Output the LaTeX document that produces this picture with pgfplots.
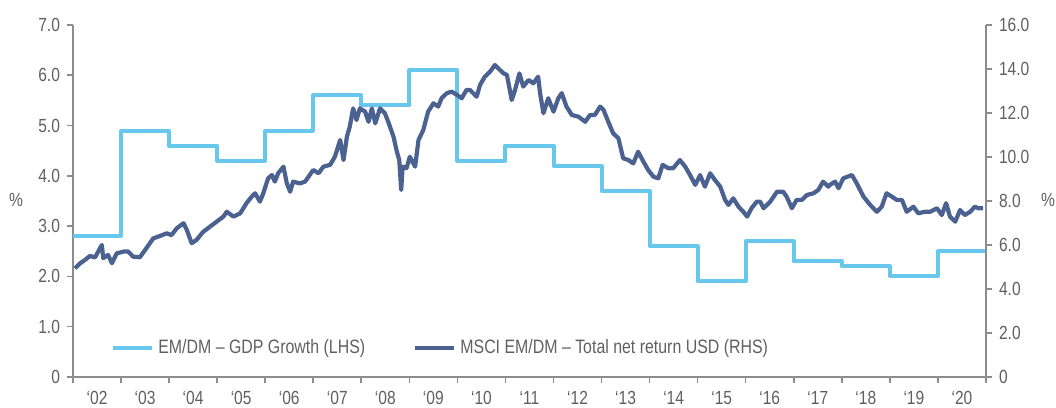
\documentclass[border=0pt]{standalone}
\usepackage{fontspec}
\setmainfont{Liberation Sans}[FakeStretch=0.82]
\usepackage{pgfplots}
\pgfplotsset{compat=1.18}
\definecolor{gdp}{HTML}{68C7EC}
\definecolor{msci}{HTML}{4B6190}
\definecolor{axgray}{HTML}{8C8C8C}
\definecolor{txtgray}{HTML}{606060}
\begin{document}
\begin{tikzpicture}
\pgfplotsset{
  base/.style={
    width=456.5pt, height=176pt, scale only axis,
    xmin=2002, xmax=2021,
    tick align=outside,
    axis line style={axgray, line width=0.8pt},
    tick style={axgray, line width=0.8pt},
    major tick length=3pt,
    tick label style={font=\fontsize{9.5}{10}\selectfont, text=txtgray},
    clip=false,
  }
}
\begin{axis}[base,
  axis x line*=bottom, axis y line*=left,
  ymin=0, ymax=7,
  ytick={0,1,...,7},
  yticklabels={0,1.0,2.0,3.0,4.0,5.0,6.0,7.0},
  xtick={2002,...,2021},
  xticklabels={},
  extra x ticks={2002.5,2003.5,...,2020.5},
  extra x tick labels={‘02,‘03,‘04,‘05,‘06,‘07,‘08,‘09,‘10,‘11,‘12,‘13,‘14,‘15,‘16,‘17,‘18,‘19,‘20},
  extra x tick style={major tick length=0pt, tick label style={yshift=-3.5pt}},
]
\addplot[const plot, gdp, line width=2pt, line join=round] coordinates {
(2002,2.8) (2003,4.9) (2004,4.6) (2005,4.3) (2006,4.9) (2007,5.6) (2008,5.4)
(2009,6.1) (2010,4.3) (2011,4.6) (2012,4.2) (2013,3.7) (2014,2.6) (2015,1.9)
(2016,2.7) (2017,2.3) (2018,2.2) (2019,2.0) (2020,2.5) (2021,2.5)
};
\node[text=txtgray, font=\fontsize{9.5}{10}\selectfont] at (rel axis cs:-0.0624,0.503) {\%};
\coordinate (bl) at (rel axis cs:0,0);
\coordinate (tr) at (rel axis cs:1,1);
\end{axis}
\begin{axis}[base,
  axis x line=none, axis y line*=right,
  ymin=0, ymax=16,
  ytick={0,2,...,16},
  yticklabels={0,2.0,4.0,6.0,8.0,10.0,12.0,14.0,16.0},
  legend columns=2,
  legend style={at={(0.035,0.082)}, anchor=west, draw=none, fill=none,
    font=\fontsize{9.7}{11}\selectfont, text=txtgray,
    /tikz/every even column/.append style={column sep=22pt}},
  legend image code/.code={\draw[#1] (0pt,0pt) -- (19.5pt,0pt);},
]
\addlegendimage{gdp, line width=2pt}
\addlegendentry{EM/DM – GDP Growth (LHS)}
\addplot[msci, line width=2.1pt, line join=round] coordinates {
(2002.04,4.94) (2002.15,5.17) (2002.25,5.32) (2002.35,5.50) (2002.46,5.44) (2002.60,6.00)
(2002.63,5.40) (2002.73,5.55) (2002.81,5.17) (2002.91,5.62) (2003.05,5.70) (2003.15,5.70)
(2003.25,5.47) (2003.39,5.44) (2003.50,5.77) (2003.67,6.30) (2003.81,6.41) (2003.95,6.53)
(2004.05,6.45) (2004.16,6.76) (2004.30,6.99) (2004.37,6.68) (2004.47,6.08) (2004.57,6.23)
(2004.71,6.60) (2004.85,6.83) (2004.99,7.06) (2005.13,7.29) (2005.20,7.51) (2005.34,7.29)
(2005.48,7.44) (2005.61,7.90) (2005.72,8.20) (2005.79,8.35) (2005.89,7.97) (2005.96,8.35)
(2006.06,9.03) (2006.14,9.18) (2006.20,8.88) (2006.27,9.26) (2006.38,9.56) (2006.45,8.80)
(2006.52,8.42) (2006.58,8.88) (2006.72,8.80) (2006.83,8.88) (2007.00,9.41) (2007.11,9.26)
(2007.21,9.56) (2007.35,9.64) (2007.45,10.01) (2007.56,10.77) (2007.63,9.86) (2007.70,10.92)
(2007.76,11.38) (2007.83,12.21) (2007.90,11.68) (2007.97,12.21) (2008.08,12.06) (2008.15,11.60)
(2008.22,12.21) (2008.29,11.53) (2008.39,12.21) (2008.49,11.99) (2008.56,11.60) (2008.67,10.92)
(2008.74,10.24) (2008.79,9.86) (2008.83,8.50) (2008.86,9.56) (2008.94,9.49) (2009.01,10.01)
(2009.12,9.56) (2009.19,10.77) (2009.29,11.23) (2009.39,12.06) (2009.50,12.44) (2009.60,12.29)
(2009.67,12.67) (2009.78,12.90) (2009.88,12.97) (2009.99,12.82) (2010.09,12.67) (2010.19,13.05)
(2010.26,13.05) (2010.40,12.74) (2010.47,13.27) (2010.57,13.65) (2010.68,13.88) (2010.78,14.18)
(2010.85,14.03) (2010.96,13.80) (2011.03,13.73) (2011.13,12.59) (2011.20,13.05) (2011.29,13.80)
(2011.37,13.20) (2011.48,13.50) (2011.58,13.35) (2011.68,13.65) (2011.72,12.90) (2011.79,11.99)
(2011.89,12.67) (2012.00,12.06) (2012.10,12.67) (2012.17,12.90) (2012.27,12.29) (2012.38,11.91)
(2012.52,11.83) (2012.66,11.60) (2012.76,11.91) (2012.86,11.91) (2012.97,12.29) (2013.04,12.14)
(2013.14,11.60) (2013.24,11.08) (2013.35,10.85) (2013.45,9.94) (2013.56,9.86) (2013.66,9.71)
(2013.76,10.24) (2013.87,9.79) (2013.97,9.41) (2014.08,9.10) (2014.18,9.03) (2014.27,9.64)
(2014.39,9.49) (2014.49,9.49) (2014.63,9.86) (2014.74,9.56) (2014.84,9.18) (2014.95,8.73)
(2015.05,9.18) (2015.15,8.65) (2015.26,9.26) (2015.36,8.95) (2015.47,8.65) (2015.57,8.05)
(2015.64,7.82) (2015.74,8.12) (2015.85,7.74) (2015.95,7.51) (2016.03,7.29) (2016.12,7.67)
(2016.23,7.97) (2016.30,7.97) (2016.37,7.67) (2016.51,7.97) (2016.65,8.42) (2016.78,8.42)
(2016.85,8.20) (2016.96,7.67) (2017.06,8.05) (2017.17,8.05) (2017.27,8.27) (2017.41,8.35)
(2017.51,8.50) (2017.61,8.88) (2017.72,8.65) (2017.75,8.73) (2017.86,8.88) (2017.93,8.58)
(2018.03,9.03) (2018.21,9.18) (2018.31,8.80) (2018.45,8.20) (2018.59,7.82) (2018.73,7.51)
(2018.83,7.74) (2018.93,8.35) (2019.04,8.20) (2019.14,8.05) (2019.25,8.05) (2019.35,7.51)
(2019.49,7.74) (2019.59,7.44) (2019.73,7.51) (2019.84,7.51) (2019.98,7.67) (2020.08,7.36)
(2020.17,7.90) (2020.25,7.29) (2020.36,7.06) (2020.46,7.59) (2020.56,7.36) (2020.67,7.51)
(2020.77,7.74) (2020.84,7.67) (2020.94,7.67)
};
\addlegendentry{MSCI EM/DM – Total net return USD (RHS)}
\node[text=txtgray, font=\fontsize{9.5}{10}\selectfont] at (rel axis cs:1.068,0.503) {\%};
\end{axis}
\pgfresetboundingbox
\path ([shift={(-36.5pt,-15.5pt)}]bl) rectangle ([shift={(35pt,12.5pt)}]tr);
\end{tikzpicture}
\end{document}
